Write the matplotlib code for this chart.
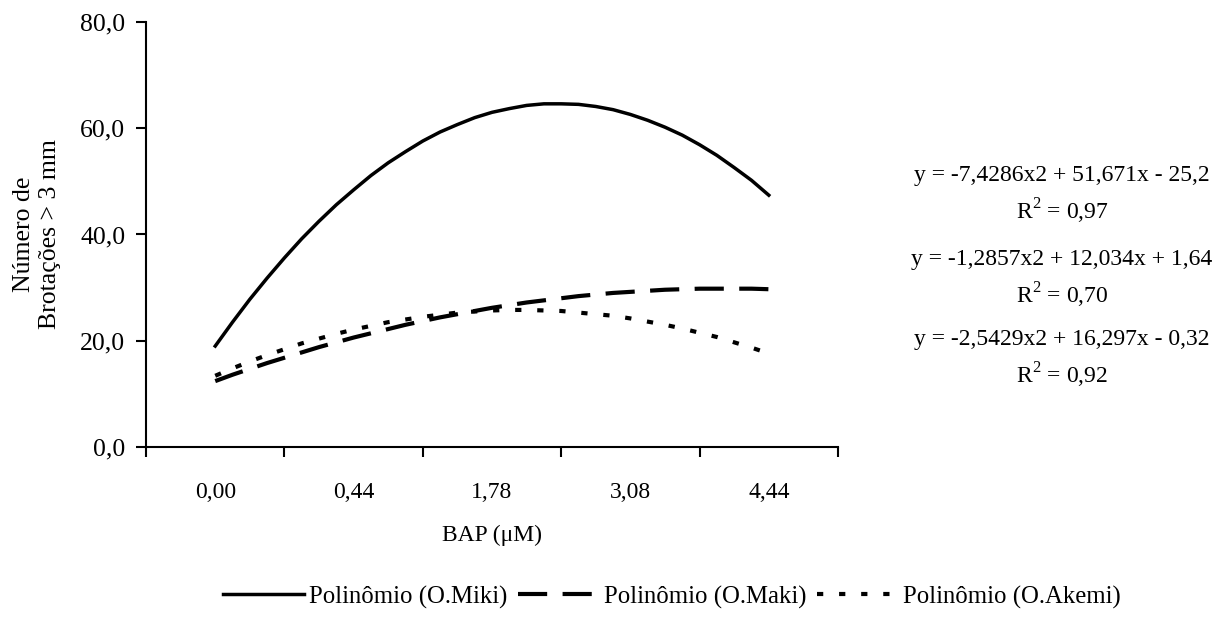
import numpy as np
import matplotlib.pyplot as plt

plt.rcParams['font.family'] = ['Liberation Serif', 'DejaVu Serif']
plt.rcParams['mathtext.fontset'] = 'custom'
plt.rcParams['mathtext.rm'] = 'Liberation Serif'
plt.rcParams['font.size'] = 17

categories = ['0,00', '0,44', '1,78', '3,08', '4,44']

# trendline curves, x in category units (1 = first category)
x_curve = [1.0, 1.125, 1.25, 1.375, 1.5, 1.625, 1.75, 1.875, 2.0, 2.125, 2.25, 2.375,
           2.5, 2.625, 2.75, 2.875, 3.0, 3.125, 3.25, 3.375, 3.5, 3.625, 3.75, 3.875,
           4.0, 4.125, 4.25, 4.375, 4.5, 4.625, 4.75, 4.875, 5.0]
miki = [19.0, 23.5, 27.8, 31.8, 35.6, 39.2, 42.5, 45.6, 48.4, 51.1, 53.5, 55.6,
        57.6, 59.3, 60.7, 62.0, 63.0, 63.7, 64.3, 64.6, 64.6, 64.5, 64.1, 63.5,
        62.6, 61.5, 60.2, 58.7, 56.9, 54.9, 52.6, 50.2, 47.4]
maki = [12.4, 13.6, 14.7, 15.8, 16.8, 17.8, 18.8, 19.7, 20.6, 21.4, 22.2, 23.0,
        23.7, 24.4, 25.0, 25.6, 26.2, 26.7, 27.2, 27.6, 28.0, 28.4, 28.7, 29.0,
        29.2, 29.4, 29.6, 29.7, 29.8, 29.8, 29.8, 29.8, 29.7]
akemi = [13.4, 14.8, 16.1, 17.3, 18.4, 19.5, 20.4, 21.3, 22.1, 22.8, 23.5, 24.0,
         24.5, 24.9, 25.3, 25.5, 25.7, 25.8, 25.8, 25.7, 25.6, 25.3, 25.0, 24.7,
         24.2, 23.6, 23.0, 22.3, 21.5, 20.7, 19.7, 18.7, 17.6]

series_names = ['Polinômio (O.Miki)', 'Polinômio (O.Maki)', 'Polinômio (O.Akemi)']
equations = ['y = -7,4286x2 + 51,671x - 25,2', 'y = -1,2857x2 + 12,034x + 1,64',
             'y = -2,5429x2 + 16,297x - 0,32']
r2_values = ['0,97', '0,70', '0,92']

fig = plt.figure(figsize=(12.15, 6.24), dpi=100)
ax = fig.add_axes([0.1202, 0.2837, 0.5695, 0.681])

ax.plot(x_curve, miki, color='black', lw=2.5, label=series_names[0])
ax.plot(x_curve, maki, color='black', lw=3, dashes=(7, 3.7), label=series_names[1])
ax.plot(x_curve, akemi, color='black', lw=3, dashes=(1.5, 3.8), label=series_names[2])

ax.set_xlim(0.5, 5.5)
ax.set_ylim(0, 80)
ax.set_xticks(range(1, 6))
ax.set_xticklabels(categories)
ax.set_xticks(np.arange(0.5, 6, 1), minor=True)
ax.tick_params(axis='x', which='major', length=0, pad=25)
ax.tick_params(axis='x', which='minor', length=7, width=1.5, direction='out')
ax.set_yticks([0, 20, 40, 60, 80])
ax.set_yticklabels(['0,0', '20,0', '40,0', '60,0', '80,0'])
ax.tick_params(axis='y', length=7, width=1.5, direction='out', pad=8, labelsize=18.5)

for s in ['top', 'right']:
    ax.spines[s].set_visible(False)
for s in ['left', 'bottom']:
    ax.spines[s].set_linewidth(1.5)

ax.set_xlabel('BAP (\u03bcM)', labelpad=16)
ax.set_ylabel('Número de\nBrotações > 3 mm', labelpad=14, fontsize=18.5)

eq_y = [175, 259, 339]
for eq, r2, yy in zip(equations, r2_values, eq_y):
    fig.text(0.874, 1 - yy / 624, eq, ha='center', va='center')
    fig.text(0.874, 1 - (yy + 36) / 624, 'R$^{2}$ = ' + r2, ha='center', va='center')

fig.legend(loc='center', bbox_to_anchor=(0.553, 1 - 597 / 624), ncol=3, frameon=False,
           fontsize=17.8, handlelength=3.3, handletextpad=0.2, columnspacing=0.4)

fig.savefig('out.png', dpi=100)
